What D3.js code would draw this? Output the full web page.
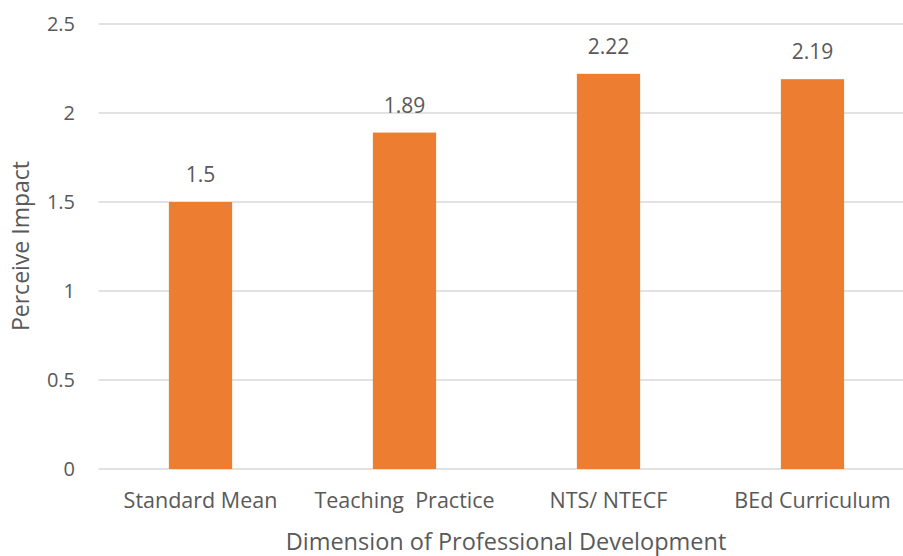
<!DOCTYPE html>
<html>
<head>
<meta charset="utf-8">
<script src="https://cdn.jsdelivr.net/npm/d3@7"></script>
<style>
  body { margin: 0; background: #fff; }
  svg text { font-family: "Open Sans", sans-serif; fill: #595959; }
</style>
</head>
<body>
<svg id="chart" width="903" height="556"></svg>
<script>
// données du graphique
const categories = ["Standard Mean", "Teaching  Practice", "NTS/ NTECF", "BEd Curriculum"];
const valeurs = [1.5, 1.89, 2.22, 2.19];
const graduations = [0, 0.5, 1, 1.5, 2, 2.5];

const svg = d3.select("#chart");
const gauche = 98.5, droite = 914.5, haut = 24, bas = 469;

const x = d3.scaleBand()
  .domain(categories)
  .range([gauche, droite])
  .paddingInner(0.69)
  .paddingOuter(0.345);

const y = d3.scaleLinear()
  .domain([0, 2.5])
  .range([bas, haut]);

// lignes de grille
svg.append("g")
  .selectAll("line")
  .data(graduations)
  .enter()
  .append("line")
  .attr("x1", gauche)
  .attr("x2", 903)
  .attr("y1", d => y(d))
  .attr("y2", d => y(d))
  .attr("stroke", "#d9d9d9")
  .attr("stroke-width", 1.5);

// étiquettes de l'axe Y
svg.append("g")
  .selectAll("text")
  .data(graduations)
  .enter()
  .append("text")
  .attr("x", 75)
  .attr("y", d => y(d))
  .attr("dy", "0.35em")
  .attr("text-anchor", "end")
  .style("font-size", "20px")
  .text(d => d);

// barres
svg.append("g")
  .selectAll("rect")
  .data(valeurs)
  .enter()
  .append("rect")
  .attr("x", (d, i) => x(categories[i]))
  .attr("width", x.bandwidth())
  .attr("y", d => y(d))
  .attr("height", d => y(0) - y(d))
  .attr("fill", "#ed7d31");

// valeurs au-dessus des barres
svg.append("g")
  .selectAll("text")
  .data(valeurs)
  .enter()
  .append("text")
  .attr("x", (d, i) => x(categories[i]) + x.bandwidth() / 2)
  .attr("y", d => y(d) - 20)
  .attr("text-anchor", "middle")
  .style("font-size", "21px")
  .text(d => d);

// étiquettes des catégories
svg.append("g")
  .selectAll("text")
  .data(categories)
  .enter()
  .append("text")
  .attr("x", d => x(d) + x.bandwidth() / 2)
  .attr("y", 508)
  .attr("text-anchor", "middle")
  .style("font-size", "21.5px")
  .style("white-space", "pre")
  .text(d => d);

// titres des axes
svg.append("text")
  .attr("x", 506)
  .attr("y", 550)
  .attr("text-anchor", "middle")
  .style("font-size", "23.5px")
  .text("Dimension of Professional Development");

svg.append("text")
  .attr("transform", `translate(29, 246) rotate(-90)`)
  .attr("text-anchor", "middle")
  .style("font-size", "23px")
  .text("Perceive Impact");
</script>
</body>
</html>
